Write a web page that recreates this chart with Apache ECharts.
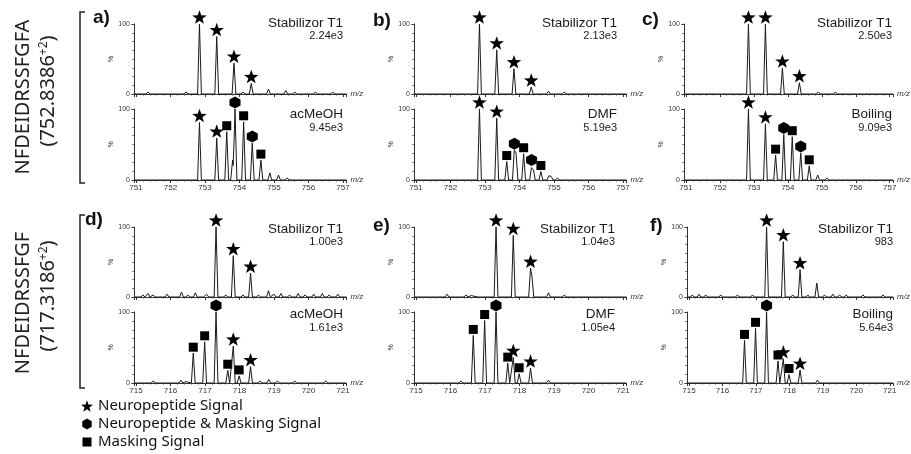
<!DOCTYPE html>
<html><head><meta charset="utf-8">
<script src="https://cdn.jsdelivr.net/npm/echarts@6/dist/echarts.min.js"></script>
<style>html,body{margin:0;padding:0;background:#fff}#c{width:911px;height:454px}</style>
</head><body><div id="c"></div>
<script>
// ---------- DATA ----------
// signal peaks: [m/z, relative intensity %, marker type]  N = neuropeptide, B = neuropeptide & masking, M = masking, '' = unmarked
const aTopSignal = [[752.84,100,'N'],[753.34,82,'N'],[753.84,44,'N'],[754.34,15,'N']];
const aTopNoise  = [[751.1,2],[751.35,3],[751.6,2],[751.9,2],[752.2,2],[752.45,3],[752.65,2],[753.1,2],[753.6,2],[754.1,3],[754.6,2],[754.84,7],[755.1,2],[755.34,5],[755.6,3],[755.9,2],[756.2,3],[756.45,2],[756.7,3],[756.95,2]];
const aBotSignal = [[752.84,81,'N'],[753.34,59,'N'],[753.63,68,'M'],[753.8,28,''],[753.87,100,'B'],[754.12,82,'M'],[754.37,52,'B'],[754.62,28,'M']];
const aBotNoise  = [[751.2,2],[751.5,1.5],[751.8,2],[752.1,1.5],[752.5,2],[754.88,10],[755.13,7],[755.38,3],[755.6,2],[755.9,2],[756.2,1.5],[756.5,2],[756.8,1.5]];
const bTopSignal = [[752.84,100,'N'],[753.34,63,'N'],[753.84,36,'N'],[754.34,10,'N']];
const bTopNoise  = [[751.3,2],[751.7,1.5],[752.1,2],[752.5,1.5],[754.84,4],[755.3,3],[755.7,2],[756.1,2],[756.5,2],[756.9,2]];
const bBotSignal = [[752.84,100,'N'],[753.34,87,'N'],[753.63,26,'M'],[753.85,42,'B'],[753.9,38,''],[754.12,37,'M'],[754.35,19,'B'],[754.4,16,''],[754.62,12,'M']];
const bBotNoise  = [[751.3,2],[751.7,1.5],[752.2,2],[752.5,1.5],[754.85,6],[754.92,5],[755.1,3],[755.4,2],[755.8,2],[756.2,2],[756.6,2]];
const cTopSignal = [[752.84,100,'N'],[753.34,100,'N'],[753.84,37,'N'],[754.34,16,'N']];
const cTopNoise  = [[751.2,1.5],[751.6,2],[752.0,1.5],[752.4,2],[754.9,3],[755.4,3],[755.8,2],[756.2,2],[756.6,2],[756.9,2]];
const cBotSignal = [[752.84,100,'N'],[753.34,79,'N'],[753.64,35,'M'],[753.88,64,'B'],[754.13,61,'M'],[754.38,38,'B'],[754.63,20,'M']];
const cBotNoise  = [[751.3,1.5],[751.8,1.5],[752.3,1.5],[754.88,7],[755.15,3],[755.4,2],[755.8,1.5],[756.3,1.5],[756.7,1.5]];
const dTopSignal = [[717.32,100,'N'],[717.82,59,'N'],[718.32,34,'N']];
const dTopNoise  = [[715.2,3],[715.35,5],[715.5,3],[715.7,2],[715.9,4],[716.1,2],[716.32,7],[716.5,3],[716.72,6],[716.9,2],[717.05,4],[717.6,3],[718.1,3],[718.55,3],[718.84,9],[719.0,4],[719.2,5],[719.45,3],[719.7,5],[719.9,3],[720.15,4],[720.4,5],[720.6,3],[720.85,4]];
const dBotSignal = [[716.66,42,'M'],[716.99,58,'M'],[717.32,100,'B'],[717.66,18,'M'],[717.82,52,'N'],[717.99,10,'M'],[718.32,23,'N']];
const dBotNoise  = [[715.3,2],[715.5,3],[715.8,2],[716.0,2],[716.3,4],[716.45,2],[718.6,3],[718.85,5],[719.1,3],[719.3,2],[719.6,3],[719.9,2],[720.2,2],[720.5,3],[720.8,2]];
const eTopSignal = [[717.32,100,'N'],[717.82,88,'N'],[718.32,41,'N'],[718.36,30,'']];
const eTopNoise  = [[715.2,2],[715.5,2],[715.9,4],[716.2,2],[716.45,3],[716.6,2],[716.85,2],[718.6,2],[718.84,6],[719.3,3],[719.7,2],[720.1,2],[720.5,2],[720.8,2]];
const eBotSignal = [[716.66,67,'M'],[716.99,88,'M'],[717.32,100,'B'],[717.66,28,'M'],[717.82,36,'N'],[717.99,13,'M'],[718.32,21,'N']];
const eBotNoise  = [[715.4,2],[715.8,2],[716.3,3],[718.6,2],[718.84,4],[719.2,2],[719.6,2],[720.0,2],[720.4,2],[720.8,1.5]];
const fTopSignal = [[717.32,100,'N'],[717.82,79,'N'],[718.32,39,'N'],[718.82,20,'']];
const fTopNoise  = [[715.1,3],[715.3,4],[715.5,3],[715.7,2],[715.95,3],[716.2,2],[716.45,3],[716.7,2],[716.9,3],[717.6,2],[718.1,3],[718.55,3],[719.05,3],[719.3,4],[719.5,3],[719.7,3],[719.9,2],[720.2,3],[720.5,2],[720.8,3]];
const fBotSignal = [[716.66,60,'M'],[716.99,77,'M'],[717.32,100,'B'],[717.66,31,'M'],[717.82,34,'N'],[717.99,12,'M'],[718.32,18,'N']];
const fBotNoise  = [[715.4,1.5],[715.9,1.5],[716.3,2],[718.6,2],[718.84,4],[719.1,2],[719.5,2],[720.0,1.5],[720.5,1.5]];

const conditions = ['Stabilizor T1','acMeOH','Stabilizor T1','DMF','Stabilizor T1','Boiling',
                    'Stabilizor T1','acMeOH','Stabilizor T1','DMF','Stabilizor T1','Boiling'];
const intensities = ['2.24e3','9.45e3','2.13e3','5.19e3','2.50e3','9.09e3',
                     '1.00e3','1.61e3','1.04e3','1.05e4','983','5.64e3'];
const panelLetters = ['a)','b)','c)','d)','e)','f)'];
const peptides = ['NFDEIDRSSFGFA','NFDEIDRSSFGF'];
const precursors = ['752.8386','717.3186'];
const charge = '+2';
const xTicksRow1 = [751,752,753,754,755,756,757];
const xTicksRow2 = [715,716,717,718,719,720,721];
const yTicks = [0,100];
const legendNames = ['Neuropeptide Signal','Neuropeptide & Masking Signal','Masking Signal'];

// ---------- LAYOUT / STYLE ----------
const spectra = [
  [aTopSignal,aTopNoise],[aBotSignal,aBotNoise],[bTopSignal,bTopNoise],[bBotSignal,bBotNoise],
  [cTopSignal,cTopNoise],[cBotSignal,cBotNoise],[dTopSignal,dTopNoise],[dBotSignal,dBotNoise],
  [eTopSignal,eTopNoise],[eBotSignal,eBotNoise],[fTopSignal,fTopNoise],[fBotSignal,fBotNoise]];
const PX = 34.5;               // pixels per m/z unit
const firstTickX = [[136,416,686],[136,416,689]];
const subTop = [[24,109],[227,312]];
const subH = [[70,71],[70,71]];
const textRight = [[343,617,892],[343,615,893]];
const condY = [[23.5,114],[229,314]];
const valY = [[35.5,128],[242,327.5]];
const letterPos = [[[93,18],[373,21],[642,20]],[[85,220],[373,226],[650,226]]];
const SANS = 'Liberation Sans, Arial, sans-serif';
const INK = '#1a1a1a';
const STAR = 'path://M0,-10L2.35,-3.24L9.51,-3.09L3.8,1.24L5.88,8.09L0,4L-5.88,8.09L-3.8,1.24L-9.51,-3.09L-2.35,-3.24Z';
const HEX = 'path://M0,-10L8.66,-5L8.66,5L0,10L-8.66,5L-8.66,-5Z';
const SYM = {N:{symbol:STAR,size:[14.5,13.5],off:[0,-7]}, B:{symbol:HEX,size:[11,12],off:[0,-6.5]}, M:{symbol:'rect',size:9,off:[0,-6]}};
const typeOrder = ['N','B','M'];
const legendIcons = [STAR,
  'path://M-11,-11M11,11M0,-10L8.66,-5L8.66,5L0,10L-8.66,5L-8.66,-5Z',
  'path://M-10,-10M10,10M-7.5,-7.5L7.5,-7.5L7.5,7.5L-7.5,7.5Z'];

function profile(peaks, lo, hi, w) {
  const xs = new Set([lo, hi]);
  peaks.forEach(p => { xs.add(+(p[0]-w).toFixed(4)); xs.add(p[0]); xs.add(+(p[0]+w).toFixed(4)); });
  return Array.from(xs).sort((a,b)=>a-b).map(x =>
    [x, Math.max(0, ...peaks.map(p => p[1]*Math.max(0, 1-Math.abs(x-p[0])/w)))]);
}

const grids=[], xAxes=[], yAxes=[], series=[], graphics=[];
for (let i=0;i<12;i++){
  const col = Math.floor(i/2)%3, row = Math.floor(i/6), sub = i%2;
  const ticks = row===0 ? xTicksRow1 : xTicksRow2;
  const lo = ticks[0]-0.06, hi = ticks[ticks.length-1]+0.1;
  grids.push({left: firstTickX[row][col]-0.06*PX, top: subTop[row][sub], width:(hi-lo)*PX, height: subH[row][sub]});
  xAxes.push({type:'value', gridIndex:i, min:lo, max:hi, splitNumber:6,
    name:'m/z', nameLocation:'end', nameGap:4,
    nameTextStyle:{fontStyle:'italic', fontSize:8, color:'#333', fontFamily:SANS},
    axisLine:{lineStyle:{color:'#333', width:1}},
    axisTick:{show:true, length:3, lineStyle:{color:'#333'}},
    minorTick:{show:true, splitNumber:5, length:1.5, lineStyle:{color:'#555'}},
    splitLine:{show:false},
    axisLabel:{show: sub===1, fontSize:8, color:'#333', fontFamily:SANS, margin:4,
      formatter: v => { const r=Math.round(v); return (Math.abs(v-r)<1e-6 && ticks.includes(r)) ? String(r) : ''; }}
  });
  yAxes.push({type:'value', gridIndex:i, min:yTicks[0], max:yTicks[1], interval:100,
    name:'%', nameLocation:'middle', nameRotate:90, nameGap:8,
    nameTextStyle:{fontSize:7, color:'#333', fontFamily:SANS},
    axisLine:{show:true, lineStyle:{color:'#333', width:1}},
    axisTick:{show:true, length:2.5, lineStyle:{color:'#333'}},
    minorTick:{show:true, splitNumber:8, length:1.5, lineStyle:{color:'#555'}},
    splitLine:{show:false},
    axisLabel:{fontSize:7, color:'#333', fontFamily:SANS, margin:4}
  });
  const [sig, noise] = spectra[i];
  const peaks = sig.map(p=>[p[0],p[1]]).concat(noise);
  series.push({type:'line', name:'spectrum '+i, xAxisIndex:i, yAxisIndex:i, showSymbol:false, clip:false,
    animation:false, silent:true, lineStyle:{width:1, color:INK}, data: profile(peaks, lo, hi, 0.055)});
  typeOrder.forEach((t,k)=>{
    series.push({type:'scatter', name:legendNames[k], xAxisIndex:i, yAxisIndex:i, clip:false, animation:false,
      symbol:SYM[t].symbol, symbolSize:SYM[t].size, symbolOffset:SYM[t].off,
      itemStyle:{color:'#000', opacity:1},
      data: sig.filter(p=>p[2]===t).map(p=>[p[0],p[1]])});
  });
  graphics.push({type:'text', x:textRight[row][col], y:condY[row][sub],
    style:{text:conditions[i], font:'13.5px '+SANS, fill:INK, textAlign:'right', textVerticalAlign:'middle'}});
  graphics.push({type:'text', x:textRight[row][col], y:valY[row][sub],
    style:{text:intensities[i], font:'11px '+SANS, fill:INK, textAlign:'right', textVerticalAlign:'middle'}});
}
for (let r=0;r<2;r++){
  for (let c=0;c<3;c++){
    graphics.push({type:'text', x:letterPos[r][c][0], y:letterPos[r][c][1],
      style:{text:panelLetters[r*3+c], font:'bold 19px '+SANS, fill:'#111', textAlign:'left', textVerticalAlign:'middle'}});
  }
}
const brY = [[12,183],[215,388]];
const labY = [[97,91],[303,296]];
for (let r=0;r<2;r++){
  graphics.push({type:'polyline', shape:{points:[[85,brY[r][0]],[80,brY[r][0]],[80,brY[r][1]],[85,brY[r][1]]]},
    style:{stroke:'#222', lineWidth:1.5, fill:null}});
  graphics.push({type:'text', x:23, y:labY[r][0], rotation:Math.PI/2,
    style:{text:peptides[r], font:'20px "Noto Sans", sans-serif', fill:'#222', textAlign:'center', textVerticalAlign:'middle'}});
  graphics.push({type:'text', x:48, y:labY[r][1], rotation:Math.PI/2,
    style:{text:'('+precursors[r]+'{sup|'+charge+'})', font:'20px "Noto Sans", sans-serif', fill:'#222',
      textAlign:'center', textVerticalAlign:'middle',
      rich:{sup:{fontSize:12, lineHeight:12, verticalAlign:'top', fontFamily:'Noto Sans'}}}});
}

const chart = echarts.init(document.getElementById('c'), null, {renderer:'canvas'});
chart.setOption({
  animation:false,
  backgroundColor:'#fff',
  grid:grids, xAxis:xAxes, yAxis:yAxes, series:series,
  legend:{orient:'vertical', left:81, top:397, padding:0, height:57, itemGap:0, itemWidth:12, itemHeight:12, selectedMode:false,
    textStyle:{fontSize:15, lineHeight:18, color:'#111', fontFamily:'Noto Sans'},
    data: legendNames.map((n,k)=>({name:n, icon:legendIcons[k], itemStyle:{color:'#000', opacity:1}}))},
  graphic:graphics
});
</script></body></html>
